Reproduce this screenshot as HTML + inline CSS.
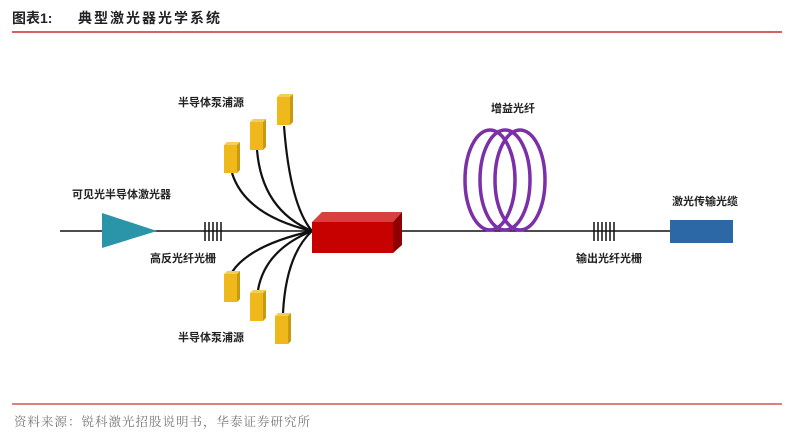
<!DOCTYPE html>
<html><head><meta charset="utf-8"><style>
body{margin:0;background:#fff;width:800px;height:442px;overflow:hidden;font-family:"Liberation Sans","Noto Sans CJK SC",sans-serif}
</style></head><body>
<svg width="800" height="442" viewBox="0 0 800 442" xmlns="http://www.w3.org/2000/svg" style="position:absolute;left:0;top:0">
<defs>
<g id="yb"><polygon points="0,3 3,0 16,0 13,3" fill="#f3cf5a"/><polygon points="13,3 16,0 16,28 13,31" fill="#c89a10"/><rect x="0" y="3" width="13" height="28" fill="#f0b91b"/></g>
</defs>
<text x="12" y="23" font-size="14" font-weight="bold" fill="#222" font-family="Liberation Sans,Noto Sans CJK SC,sans-serif">图表1:</text>
<text x="78" y="23" font-size="14" font-weight="bold" fill="#222" font-family="Liberation Sans,Noto Sans CJK SC,sans-serif" letter-spacing="2">典型激光器光学系统</text>
<line x1="12" y1="32" x2="782" y2="32" stroke="#c00000" stroke-width="1.2"/>
<line x1="12" y1="404" x2="782" y2="404" stroke="#d0302a" stroke-width="1.2"/>
<text x="14" y="426" font-size="12.5" fill="#777" font-family="Noto Serif CJK SC,serif" letter-spacing="1">资料来源：锐科激光招股说明书，华泰证券研究所</text>

<line x1="60" y1="231" x2="670" y2="231" stroke="#111" stroke-width="1.5"/>
<polygon points="102,213 157,231 102,248" fill="#2a94a8"/>
<g stroke="#111" stroke-width="1.5"><line x1="205" y1="222" x2="205" y2="241"/><line x1="209" y1="222" x2="209" y2="241"/><line x1="213" y1="222" x2="213" y2="241"/><line x1="217" y1="222" x2="217" y2="241"/><line x1="221" y1="222" x2="221" y2="241"/>
<line x1="594" y1="222" x2="594" y2="241"/><line x1="598" y1="222" x2="598" y2="241"/><line x1="602" y1="222" x2="602" y2="241"/><line x1="606" y1="222" x2="606" y2="241"/><line x1="610" y1="222" x2="610" y2="241"/><line x1="614" y1="222" x2="614" y2="241"/></g>

<g fill="none" stroke="#111" stroke-width="2.2">
<path d="M232,173 Q245,215 312,231"/>
<path d="M257,150 Q262,210 312,231"/>
<path d="M284,126 Q290,205 312,231"/>
<path d="M232,272 Q250,245 312,231"/>
<path d="M258,290 Q265,250 312,231"/>
<path d="M283,313 Q286,255 312,231"/>
</g>
<use href="#yb" x="224" y="142"/>
<use href="#yb" x="250" y="119"/>
<use href="#yb" x="277" y="94"/>
<use href="#yb" x="224" y="271"/>
<use href="#yb" x="250" y="290"/>
<use href="#yb" x="275" y="313"/>

<polygon points="312,222 322,212 402,212 393,222" fill="#d84040"/>
<polygon points="393,222 402,212 402,245 393,253" fill="#8f0000"/>
<rect x="312" y="222" width="81" height="31" fill="#c70000"/>

<g fill="none" stroke="#7b2fa8" stroke-width="3.5">
<ellipse cx="490" cy="180" rx="25" ry="50"/>
<ellipse cx="505" cy="180" rx="25" ry="50"/>
<ellipse cx="520" cy="180" rx="25" ry="50"/>
</g>
<rect x="670" y="220" width="63" height="23" fill="#2d68a6"/>

<g font-size="11" font-weight="bold" fill="#222" font-family="Liberation Sans,Noto Sans CJK SC,sans-serif">
<text x="178" y="106">半导体泵浦源</text>
<text x="178" y="341">半导体泵浦源</text>
<text x="72" y="198">可见光半导体激光器</text>
<text x="150" y="262">高反光纤光栅</text>
<text x="491" y="112">增益光纤</text>
<text x="672" y="205">激光传输光缆</text>
<text x="576" y="262">输出光纤光栅</text>
</g>
</svg>
</body></html>
